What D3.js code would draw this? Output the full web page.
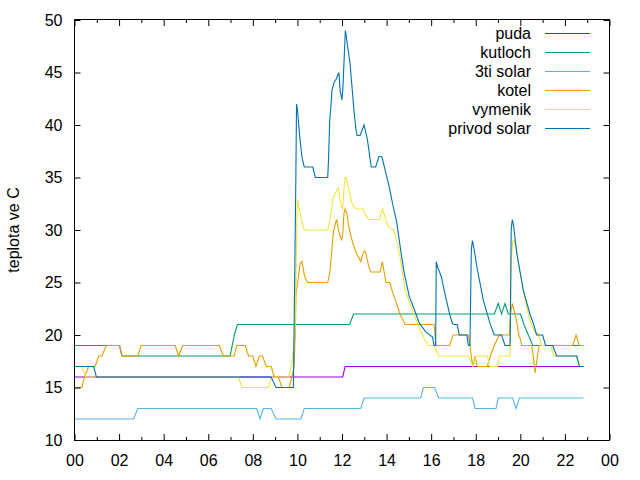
<!DOCTYPE html>
<html>
<head>
<meta charset="utf-8">
<script src="https://cdn.jsdelivr.net/npm/d3@7"></script>
<style>
  html, body { margin: 0; padding: 0; background: #fff; }
  svg { display: block; }
  text { font-family: "Liberation Sans", Arial, sans-serif; font-size: 16px; fill: #000; }
</style>
</head>
<body>
<svg id="chart" width="640" height="480"></svg>
<script>
// ---- data: [hour of day, temperature °C] ----
const seriesNames = ["puda", "kutloch", "3ti solar", "kotel", "vymenik", "privod solar"];
const seriesColors = ["#9400d3", "#009e73", "#56b4e9", "#e69f00", "#f0e442", "#0072b2"];

const puda = [[0,16],[12.03,16],[12.14,17],[22.83,17]];

const kutloch = [[0,19],[2.02,19],[2.12,18],[6.98,18],[7.17,20],[7.31,21],[12.34,21],[12.52,22],
  [18.83,22],[19.01,23],[19.16,22],[19.31,23],[19.46,22],[20.01,22],[20.16,21],[20.36,20],[20.56,19],[22.83,19]];

const solar3ti = [[0,12],[2.65,12],[2.84,13],[8.17,13],[8.32,12],[8.47,13],[8.82,13],[9.04,12],[10.15,12],
  [10.31,13],[12.84,13],[12.99,14],[15.53,14],[15.65,15],[16.15,15],[16.33,14],[17.86,14],[17.97,13],
  [18.91,13],[19.01,14],[19.66,14],[19.81,13],[19.96,14],[22.83,14]];

const kotel = [[0,15],[0.33,15],[0.45,16],[0.63,17],[0.93,17],[1.08,18],[1.23,18],[1.42,19],[2.02,19],
  [2.14,18],[2.84,18],[2.99,19],[4.52,19],[4.67,18],[4.85,19],[6.5,19],[6.68,18],[7.16,18],[7.28,19],
  [7.66,19],[7.81,18],[7.99,18],[8.14,17],[8.29,18],[8.43,18],[8.61,17],[8.82,17],[8.97,16],[9.15,16],
  [9.3,15],[9.63,15],[9.75,16],[9.85,17],[9.9,20],[9.94,24],[10.05,25.6],[10.12,26.8],[10.2,27],
  [10.27,26.2],[10.32,25.6],[10.45,25],[11.36,25],[11.46,26],[11.54,28],[11.61,29.8],[11.69,30.5],
  [11.76,31],[11.84,30],[11.98,29],[12.03,29.5],[12.09,31.6],[12.14,32],[12.22,31.5],[12.29,30.5],
  [12.39,29.5],[12.49,28.7],[12.64,27.8],[12.74,27.4],[12.84,27],[12.96,27.9],[13.04,28],[13.11,27.4],
  [13.19,26.6],[13.29,26],[13.71,26],[13.81,27],[13.89,26],[13.98,25],[14.14,25],[14.28,24],[14.45,23],
  [14.6,22],[14.83,21],[16.13,21],[16.22,19],[16.82,19],[16.99,20],[17.67,20],[17.74,19],[17.8,18],
  [17.87,17],[17.97,18],[18.07,17],[18.52,17],[18.65,18],[18.83,19],[19.06,20],[19.51,20],[19.56,22],
  [19.64,23],[19.76,22],[19.86,21],[19.93,20],[20.02,19.5],[20.06,19],[20.51,19],[20.58,18],[20.66,16.4],
  [20.77,18],[20.84,19],[22.35,19],[22.5,20],[22.65,19],[22.83,19]];

const vymenik = [[0,17],[0.33,17],[0.51,16],[7.36,16],[7.51,15],[8.7,15],[8.84,16],[9.62,16],[9.72,17],
  [9.82,18.6],[9.9,21],[9.97,30],[10.0,32.9],[10.12,31.6],[10.2,30.8],[10.31,30],[11.36,30],[11.46,31],
  [11.62,33.2],[11.73,33.6],[11.84,34],[11.91,33],[11.98,32.2],[12.03,32],[12.09,34],[12.14,35],[12.18,35],
  [12.29,34],[12.44,32.6],[12.54,32.2],[12.63,32],[12.96,32],[13.04,31.5],[13.19,31],[13.68,31],[13.82,32],
  [13.92,31.3],[14.02,30.6],[14.13,30.2],[14.31,30],[14.39,29.5],[14.6,27.5],[14.83,24.3],[15.13,22.5],
  [15.43,20.8],[15.72,19.5],[15.88,19],[16.13,19],[16.33,18],[17.67,18],[17.87,17],[18.02,18],[18.52,18],
  [18.62,17],[18.98,17],[19.06,18],[19.54,18],[19.59,27],[19.66,29],[19.73,29],[19.86,27.8],[19.94,26.5],
  [20.13,24.3],[20.28,22.7],[20.43,21.4],[20.6,20.5],[20.7,20.2],[20.8,20.2],[20.95,19],[21.36,19],
  [21.5,18],[22.53,18],[22.65,17],[22.83,17]];

const privodSolar = [[0,17],[0.86,17],[0.98,16],[8.82,16],[9.04,15],[9.82,15],[9.93,35],[9.96,42],
  [10.0,41.5],[10.04,40.5],[10.09,39.2],[10.15,38],[10.2,37],[10.27,36.3],[10.31,36],[10.69,36],
  [10.75,35.5],[10.8,35],[11.36,35],[11.4,37],[11.45,40.5],[11.5,41.7],[11.55,43.3],[11.65,44.1],
  [11.75,44.4],[11.86,45],[11.92,43.2],[12.0,42.4],[12.04,43.5],[12.15,49],[12.19,48.5],[12.25,47.5],
  [12.36,45.9],[12.45,43.6],[12.54,41.3],[12.63,39.5],[12.68,39],[12.81,39],[12.99,40],[13.14,38.6],
  [13.31,36],[13.51,36],[13.66,37],[13.79,37],[13.97,35.4],[14.12,34.1],[14.27,32.5],[14.45,30.8],
  [14.63,28.1],[14.79,25.9],[15.02,23.65],[15.25,22.4],[15.47,21.1],[15.76,20.3],[16.06,19.8],[16.13,19],
  [16.2,19],[16.23,27],[16.28,26.5],[16.45,25.6],[16.65,23.6],[16.84,21.9],[16.95,21.1],[17.04,21],
  [17.17,21],[17.26,20],[17.6,20],[17.67,19],[17.74,19],[17.8,28],[17.85,29],[17.9,28.5],[18.05,26.5],
  [18.34,23.3],[18.64,21.1],[18.83,20],[19.16,20],[19.31,19],[19.54,19],[19.59,30],[19.64,31],[19.69,30.5],
  [19.84,27.8],[20.13,24.3],[20.43,22],[20.6,21],[20.73,20],[21.0,20],[21.13,19],[21.45,19],[21.63,18],
  [22.53,18],[22.65,17],[22.83,17]];

const seriesData = [puda, kutloch, solar3ti, kotel, vymenik, privodSolar];

const xMajorTicks = [0,2,4,6,8,10,12,14,16,18,20,22,24];
const xTickLabels = ["00","02","04","06","08","10","12","14","16","18","20","22","00"];
const xMinorTicks = [1,3,5,7,9,11,13,15,17,19,21,23];
const yTicks = [10,15,20,25,30,35,40,45,50];
const yLabel = "teplota ve C";

// ---- layout ----
const plotLeft = 74.5, plotRight = 609.5, plotTop = 20, plotBottom = 440;
const svg = d3.select("#chart");
const x = d3.scaleLinear().domain([0, 24]).range([plotLeft, plotRight]);
const y = d3.scaleLinear().domain([10, 50]).range([plotBottom, plotTop]);

// series lines
const line = d3.line().x(d => x(d[0])).y(d => y(d[1]));
svg.append("g").selectAll("path")
  .data(seriesData)
  .join("path")
  .attr("d", d => line(d))
  .attr("fill", "none")
  .attr("stroke", (d, i) => seriesColors[i])
  .attr("stroke-width", 1.1)
  .attr("stroke-linejoin", "miter");

// axes
function styleAxis(g) {
  g.select(".domain").remove();
  g.selectAll(".tick line").attr("stroke", "#000").attr("stroke-width", 1);
  g.selectAll(".tick text").attr("font-family", "Liberation Sans, Arial, sans-serif")
    .attr("font-size", 16).attr("fill", "#000");
}
svg.append("g").attr("transform", `translate(0,${plotBottom})`)
  .call(d3.axisBottom(x).tickValues(xMajorTicks).tickFormat((d, i) => xTickLabels[i]).tickSize(-6).tickPadding(15))
  .call(styleAxis);
svg.append("g").attr("transform", `translate(0,${plotBottom})`)
  .call(d3.axisBottom(x).tickValues(xMinorTicks).tickFormat("").tickSize(-3))
  .call(styleAxis);
svg.append("g").attr("transform", `translate(0,${plotTop})`)
  .call(d3.axisTop(x).tickValues(xMajorTicks).tickFormat("").tickSize(-6))
  .call(styleAxis);
svg.append("g").attr("transform", `translate(0,${plotTop})`)
  .call(d3.axisTop(x).tickValues(xMinorTicks).tickFormat("").tickSize(-3))
  .call(styleAxis);
svg.append("g").attr("transform", `translate(${plotLeft},0)`)
  .call(d3.axisLeft(y).tickValues(yTicks).tickFormat(d3.format("d")).tickSize(-6).tickPadding(12))
  .call(styleAxis);
svg.append("g").attr("transform", `translate(${plotRight},0)`)
  .call(d3.axisRight(y).tickValues(yTicks).tickFormat("").tickSize(-6))
  .call(styleAxis);

// border
svg.append("rect")
  .attr("x", plotLeft).attr("y", plotTop - 0.5)
  .attr("width", plotRight - plotLeft).attr("height", plotBottom - plotTop + 1)
  .attr("fill", "none").attr("stroke", "#000").attr("stroke-width", 1);

// y label
svg.append("text")
  .attr("transform", `translate(19,${(plotTop + plotBottom) / 2}) rotate(-90)`)
  .attr("text-anchor", "middle")
  .text(yLabel);

// legend
const legend = svg.append("g");
seriesNames.forEach((name, i) => {
  const ly = 33.5 + i * 19;
  legend.append("text")
    .attr("x", 531).attr("y", ly).attr("dy", "0.35em")
    .attr("text-anchor", "end").text(name);
  legend.append("line")
    .attr("x1", 545).attr("x2", 590).attr("y1", ly).attr("y2", ly)
    .attr("stroke", seriesColors[i]).attr("stroke-width", 1.1);
});
</script>
</body>
</html>
